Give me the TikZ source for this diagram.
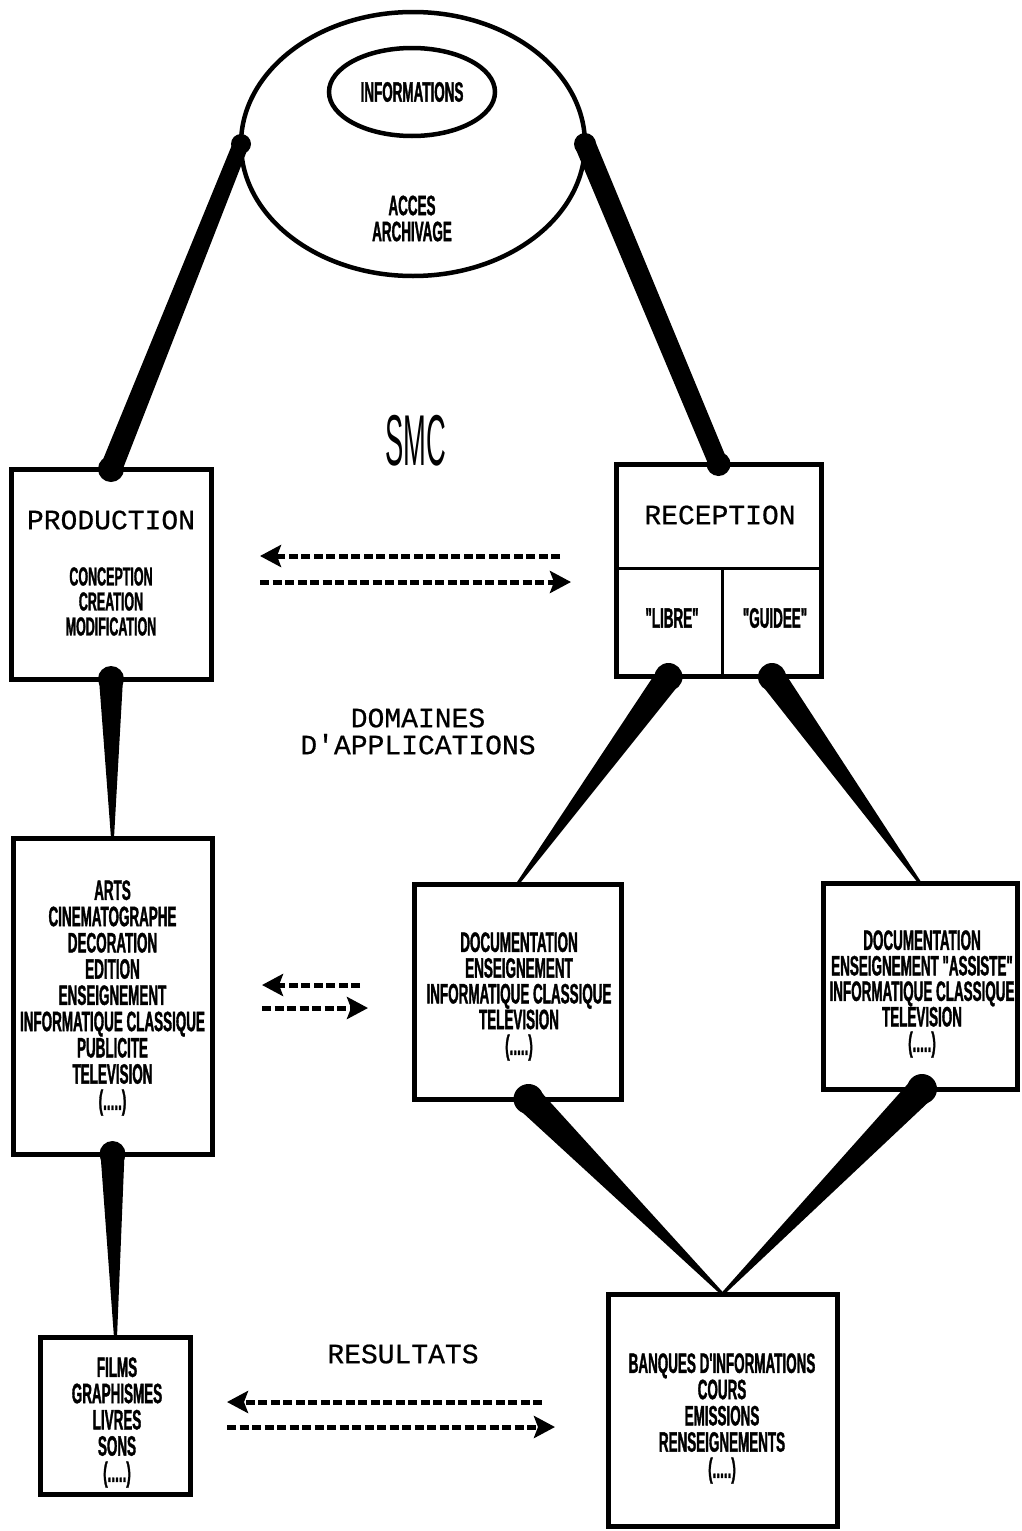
\documentclass[tikz,border=0pt]{standalone}
\usepackage{fontspec}
\usetikzlibrary{calc,shapes.geometric,arrows.meta}
\newfontfamily\condfont[FakeStretch=0.48, BoldFeatures={FakeBold=1.2}]{Liberation Sans}
\newfontfamily\bigmono[FakeBold=0.6]{Liberation Mono}
\newfontfamily\thinsans{Liberation Sans}
\newcommand\taper[5]{%
  \fill ($(#1)!#3!90:(#2)$) -- ($(#1)!#3!-90:(#2)$) -- ($(#2)!#4!90:(#1)$) -- ($(#2)!#4!-90:(#1)$) -- cycle;
  \fill (#1) circle[radius=#5];}
\tikzset{
  box/.style={draw, line width=5pt, inner sep=0pt, outer sep=0pt},
  cell/.style={inner sep=0pt, outer sep=0pt},
  small/.style={font=\condfont\bfseries\fontsize{28}{26}\selectfont, align=center, inner sep=0pt},
  big/.style={font=\bigmono\fontsize{28}{27}\selectfont, align=center, inner sep=0pt},
  dasharrow/.style={line width=5pt, dash pattern=on 9pt off 3.5pt, -{Stealth[length=21pt,width=22pt,inset=4pt]}},
}
\begin{document}
\begin{tikzpicture}[x=1pt,y=-1pt]
\fill[white] (0,0) rectangle (1021,1531);
\useasboundingbox (0,0) rectangle (1021,1531);

% top ellipse
\node[draw, ellipse, line width=4.5pt, inner sep=0pt, outer sep=0pt, minimum width=344pt, minimum height=264pt] (ell) at (413,144) {};
\node[draw, ellipse, line width=4.5pt, inner sep=0pt, minimum width=166pt, minimum height=88pt, small] (info) at (412,92) {INFORMATIONS};
\node[small] (acces) at (412,218.5) {ACCES\\ARCHIVAGE};

% SMC
\node[inner sep=0pt] (smc) at (416,441) {\scalebox{0.38}[1]{\thinsans\fontsize{72}{72}\selectfont SMC}};

% PRODUCTION
\node[box, minimum width=200pt, minimum height=210pt] (prod) at (111,574) {};
\node[big] (prodt) at (111,520) {PRODUCTION};
\node[small, font=\condfont\bfseries\fontsize{26}{25}\selectfont] (prods) at (111,601.5) {CONCEPTION\\CREATION\\MODIFICATION};

% RECEPTION
\node[box, minimum width=205pt, minimum height=212pt] (rec) at (718.5,570) {};
\node[cell, minimum width=107pt, minimum height=109pt] (libre) at (668.5,622.5) {};
\node[cell, minimum width=100pt, minimum height=109pt] (guidee) at (772,622.5) {};
\draw[line width=3pt] (libre.north west) -- (guidee.north east);
\draw[line width=3pt] (libre.north east) -- (libre.south east);
\node[big] (rect) at (720,515) {RECEPTION};
\node[small] (libret) at (672,618) {"LIBRE"};
\node[small] (guideet) at (775,618) {"GUIDEE"};

% DOMAINES
\node[big] (dom) at (418,731.5) {DOMAINES\\D'APPLICATIONS};

% middle boxes
\node[box, minimum width=199pt, minimum height=316pt] (arts) at (112.5,996) {};
\node[small, font=\condfont\bfseries\fontsize{28}{26.25}\selectfont] (artst) at (112.5,998) {ARTS\\CINEMATOGRAPHE\\DECORATION\\EDITION\\ENSEIGNEMENT\\INFORMATIQUE CLASSIQUE\\PUBLICITE\\TELEVISION\\(.....)};

\node[box, minimum width=207pt, minimum height=215pt] (doc1) at (517.5,991.5) {};
\node[small, font=\condfont\bfseries\fontsize{28}{25.75}\selectfont] (doc1t) at (519,996.5) {DOCUMENTATION\\ENSEIGNEMENT\\INFORMATIQUE CLASSIQUE\\TELEVISION\\(.....)};

\node[box, minimum width=194pt, minimum height=206pt] (doc2) at (920,986) {};
\node[small, font=\condfont\bfseries\fontsize{28}{25.5}\selectfont] (doc2t) at (922,994) {DOCUMENTATION\\ENSEIGNEMENT "ASSISTE"\\INFORMATIQUE CLASSIQUE\\TELEVISION\\(.....)};

% bottom boxes
\node[box, minimum width=150pt, minimum height=157pt] (films) at (115.5,1416) {};
\node[small, font=\condfont\bfseries\fontsize{28}{26.25}\selectfont] (filmst) at (117,1422.5) {FILMS\\GRAPHISMES\\LIVRES\\SONS\\(.....)};

\node[box, minimum width=229pt, minimum height=232pt] (banq) at (722.5,1410) {};
\node[small, font=\condfont\bfseries\fontsize{28}{26.25}\selectfont] (banqt) at (722,1418.5) {BANQUES D'INFORMATIONS\\COURS\\EMISSIONS\\RENSEIGNEMENTS\\(.....)};

\node[big] (res) at (403,1354) {RESULTATS};

% tapered connectors
\taper{ell.west}{prod.north}{8pt}{11pt}{10pt}
\fill (prod.north) circle[radius=13pt];
\taper{ell.east}{rec.north}{10.5pt}{9.5pt}{11pt}
\fill (rec.north) circle[radius=12pt];
\taper{prod.south}{arts.north}{12pt}{1.5pt}{13pt}
\taper{arts.south}{films.north}{12pt}{1.5pt}{13pt}
\taper{libre.south}{doc1.north}{13pt}{1.5pt}{14pt}
\taper{guidee.south}{doc2.north}{13pt}{1.5pt}{14pt}
\coordinate (d1s) at ($(doc1.south)+(11,0)$);
\coordinate (d2s) at ($(doc2.south)+(2,0)$);
\taper{d1s}{banq.north}{14pt}{1.5pt}{15pt}
\taper{d2s}{banq.north}{14pt}{1.5pt}{15pt}

% dashed arrows
\coordinate (a1s) at (560,556); \coordinate (a1e) at (260,556);
\coordinate (a2s) at (260,582); \coordinate (a2e) at (571,582);
\draw[dasharrow] (a1s) -- (a1e);
\draw[dasharrow] (a2s) -- (a2e);
\coordinate (b1s) at (360,985); \coordinate (b1e) at (262,985);
\coordinate (b2s) at (262,1008); \coordinate (b2e) at (368,1008);
\draw[dasharrow] (b1s) -- (b1e);
\draw[dasharrow] (b2s) -- (b2e);
\coordinate (c1s) at (542,1402); \coordinate (c1e) at (227,1402);
\coordinate (c2s) at (227,1427); \coordinate (c2e) at (555,1427);
\draw[dasharrow] (c1s) -- (c1e);
\draw[dasharrow] (c2s) -- (c2e);
\end{tikzpicture}
\end{document}
